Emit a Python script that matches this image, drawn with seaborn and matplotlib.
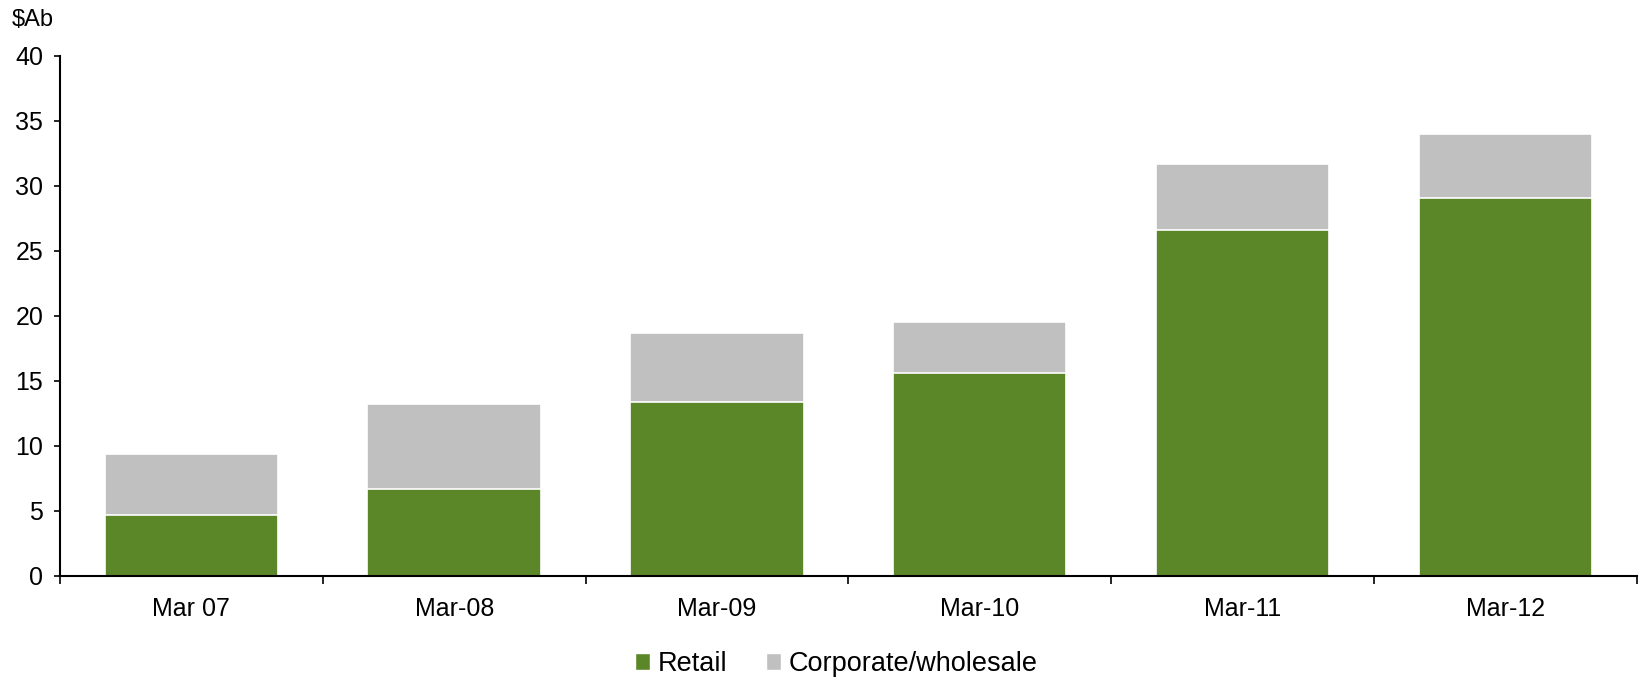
import matplotlib
matplotlib.use("Agg")
import matplotlib.pyplot as plt
import matplotlib.patches as mpatches
from matplotlib.ticker import FixedLocator
import numpy as np
import pandas as pd
import seaborn as sns

# Funding by segment, $A billions
periods = ["Mar 07", "Mar-08", "Mar-09", "Mar-10", "Mar-11", "Mar-12"]
retail = [4.7, 6.7, 13.4, 15.6, 26.6, 29.1]
corporate = [4.7, 6.55, 5.25, 3.95, 5.05, 4.85]

green = "#5B8729"
grey = "#C0C0C0"

sns.set_theme(style="white")
plt.rcParams["font.family"] = ["Liberation Sans", "DejaVu Sans"]
plt.rcParams["text.color"] = "black"

df = pd.DataFrame({"period": periods, "retail": retail, "corporate": corporate})
df["total"] = df["retail"] + df["corporate"]

fig = plt.figure(figsize=(16.4, 6.81), dpi=100)
ax = fig.add_axes([0.0366, 0.1546, 0.9614, 0.7634])

# stacked bars: full height in grey, retail share in green on top of it
sns.barplot(data=df, x="period", y="total", color=grey, width=0.66,
            edgecolor="white", linewidth=1.2, saturation=1, ax=ax)
sns.barplot(data=df, x="period", y="retail", color=green, width=0.66,
            edgecolor="white", linewidth=1.2, saturation=1, ax=ax)

ax.set_ylim(0, 40)
ax.set_xlim(-0.5, len(periods) - 0.5)
ax.set_yticks(np.arange(0, 41, 5))
ax.set_xlabel("")
ax.set_ylabel("")

for side in ["top", "right"]:
    ax.spines[side].set_visible(False)
for side in ["left", "bottom"]:
    ax.spines[side].set_color("black")
    ax.spines[side].set_linewidth(1.5)

ax.tick_params(axis="y", which="major", left=True, direction="out",
               length=4, width=1.2, color="black", labelsize=18, pad=8,
               labelcolor="black")
ax.tick_params(axis="x", which="major", bottom=False, labelsize=18,
               pad=9, labelcolor="black")
ax.xaxis.set_minor_locator(FixedLocator(np.arange(-0.5, len(periods), 1.0)))
ax.tick_params(axis="x", which="minor", bottom=True, direction="out",
               length=6, width=1.2, color="black")

ax.text(12 / 1640, 1 - 20 / 681, "$Ab", transform=fig.transFigure,
        fontsize=17, ha="left", va="center", color="black")

handles = [mpatches.Patch(facecolor=green, edgecolor="white", label="Retail"),
           mpatches.Patch(facecolor=grey, edgecolor="white", label="Corporate/wholesale")]
fig.legend(handles=handles, loc="center", bbox_to_anchor=(0.51, 1 - 664 / 681),
           ncol=2, frameon=False, fontsize=19.5, handlelength=0.55,
           handleheight=0.55, handletextpad=0.3, columnspacing=1.4,
           borderpad=0, borderaxespad=0, labelcolor="black")

fig.savefig("out.png", dpi=100, facecolor="white")
